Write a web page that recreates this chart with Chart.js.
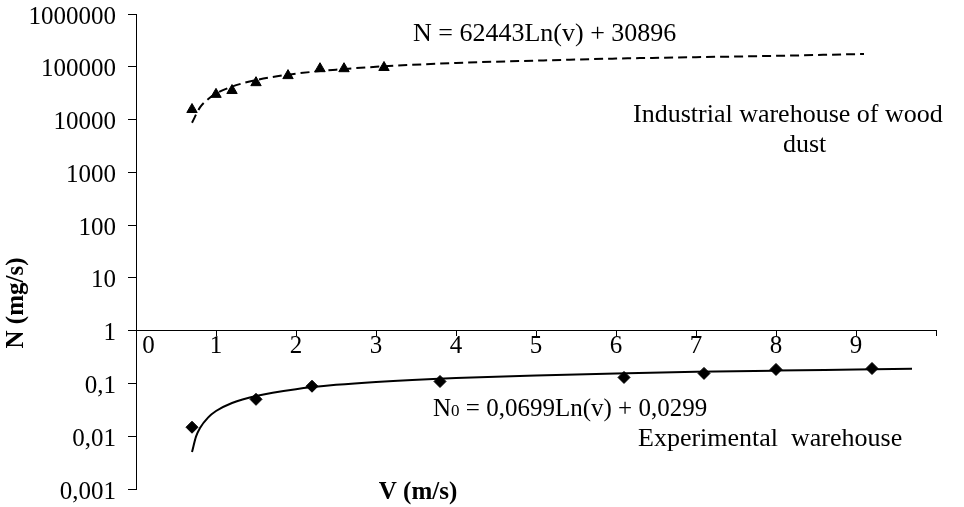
<!DOCTYPE html>
<html>
<head>
<meta charset="utf-8">
<script src="https://cdn.jsdelivr.net/npm/chart.js@4"></script>
<style>
  body { margin: 0; background: #fff; }
  #wrap { width: 964px; height: 507px; }
</style>
</head>
<body>
<div id="wrap"><canvas id="chart" width="964" height="507"></canvas></div>
<script>
// industrial warehouse of wood dust (triangles) + its log trend line
const industrialV = [0.7, 1.0, 1.2, 1.5, 1.9, 2.3, 2.6, 3.1];
const industrialN = [15500, 30000, 35500, 50000, 68000, 92000, 92000, 97000];
const industrialTrendV = [0.7, 0.8, 0.9, 1, 1.2, 1.5, 2, 2.5, 3, 4, 5, 6, 7, 8, 9.1];
const industrialTrendN = [8700, 17000, 24300, 31000, 42000, 56000, 74000, 88000, 100000, 118000, 131000, 143000, 152000, 161000, 175000];

// experimental warehouse (diamonds) + its log trend line
const experimentalV = [0.7, 1.5, 2.2, 3.8, 6.1, 7.1, 8.0, 9.2];
const experimentalN = [0.0148, 0.050, 0.0885, 0.109, 0.13, 0.155, 0.184, 0.192];
const experimentalTrendV = [0.7, 0.75, 0.8, 0.9, 1, 1.2, 1.5, 2, 2.5, 3, 4, 5, 6, 7, 8, 9, 9.7];
const experimentalTrendN = [0.005, 0.0098, 0.0143, 0.0225, 0.030, 0.0426, 0.058, 0.078, 0.094, 0.107, 0.127, 0.142, 0.155, 0.166, 0.175, 0.183, 0.189];

const yTickValues = [0.001, 0.01, 0.1, 1, 10, 100, 1000, 10000, 100000, 1000000];
const yTickLabels = ["0,001", "0,01", "0,1", "1", "10", "100", "1000", "10000", "100000", "1000000"];
const xTickLabels = ["0", "1", "2", "3", "4", "5", "6", "7", "8", "9", ""];

const serif = '"Liberation Serif", "Times New Roman", serif';

const toPoints = (xs, ys) => xs.map((x, i) => ({ x: x, y: ys[i] }));

const textPlugin = {
  id: "texts",
  afterDraw(chart) {
    const c = chart.ctx;
    c.save();
    c.fillStyle = "#000";
    c.textBaseline = "alphabetic";
    c.textAlign = "left";

    c.font = "26px " + serif;
    c.fillText("N = 62443Ln(v) + 30896", 413, 41);
    c.fillText("Industrial warehouse of wood", 633, 122);
    c.fillText("dust", 783, 152);
    c.fillText("Experimental  warehouse", 638, 446);

    // N0 with a small zero
    let x = 433;
    c.font = "25px " + serif;
    c.fillText("N", x, 416);
    x += c.measureText("N").width;
    c.font = "17px " + serif;
    c.fillText("0", x, 416);
    x += c.measureText("0").width;
    c.font = "25px " + serif;
    c.fillText(" = 0,0699Ln(v) + 0,0299", x, 416);

    // axis titles
    c.font = "bold 25px " + serif;
    c.textAlign = "center";
    c.textBaseline = "middle";
    c.fillText("V (m/s)", 418, 493);
    c.translate(17, 303);
    c.rotate(-Math.PI / 2);
    c.fillText("N (mg/s)", 0, 0);
    c.restore();
  }
};

new Chart(document.getElementById("chart"), {
  type: "scatter",
  data: {
    datasets: [
      {
        data: toPoints(industrialV, industrialN),
        showLine: false,
        pointStyle: "triangle",
        pointRadius: 6,
        backgroundColor: "#000",
        borderColor: "#000",
        order: 0
      },
      {
        data: toPoints(experimentalV, experimentalN),
        showLine: false,
        pointStyle: "rectRot",
        pointRadius: 6,
        backgroundColor: "#000",
        borderColor: "#000",
        order: 0
      },
      {
        data: toPoints(industrialTrendV, industrialTrendN),
        showLine: true,
        pointRadius: 0,
        borderColor: "#000",
        borderWidth: 2,
        borderDash: [9, 5],
        cubicInterpolationMode: "monotone",
        order: 1
      },
      {
        data: toPoints(experimentalTrendV, experimentalTrendN),
        showLine: true,
        pointRadius: 0,
        borderColor: "#000",
        borderWidth: 2,
        cubicInterpolationMode: "monotone",
        order: 1
      }
    ]
  },
  options: {
    responsive: false,
    animation: false,
    layout: { padding: { left: 0, top: 14, right: 28, bottom: 18 } },
    plugins: {
      legend: { display: false },
      tooltip: { enabled: false }
    },
    scales: {
      x: {
        type: "linear",
        position: { y: 1 },
        min: 0,
        max: 10,
        ticks: {
          stepSize: 1,
          color: "#000",
          padding: -2,
          font: { family: serif, size: 25, lineHeight: 1 },
          maxRotation: 0,
          callback: (value, i) => (i === 0 ? "    " : "") + xTickLabels[i]
        },
        grid: { drawOnChartArea: false, tickLength: 5, color: "#000" },
        border: { color: "#000", width: 1 }
      },
      y: {
        type: "logarithmic",
        min: 0.001,
        max: 1000000,
        afterBuildTicks: scale => {
          scale.ticks = yTickValues.map(v => ({ value: v }));
        },
        afterFit: scale => {
          scale.width = 136;
        },
        ticks: {
          color: "#000",
          padding: 12,
          labelOffset: 3,
          // small line height keeps the label overflow from pushing the plot area in
          font: { family: serif, size: 25, lineHeight: 0.1 },
          callback: (value, i) => yTickLabels[i]
        },
        grid: { drawOnChartArea: false, tickLength: 8, color: "#000" },
        border: { color: "#000", width: 1 }
      }
    }
  },
  plugins: [textPlugin]
});
</script>
</body>
</html>
